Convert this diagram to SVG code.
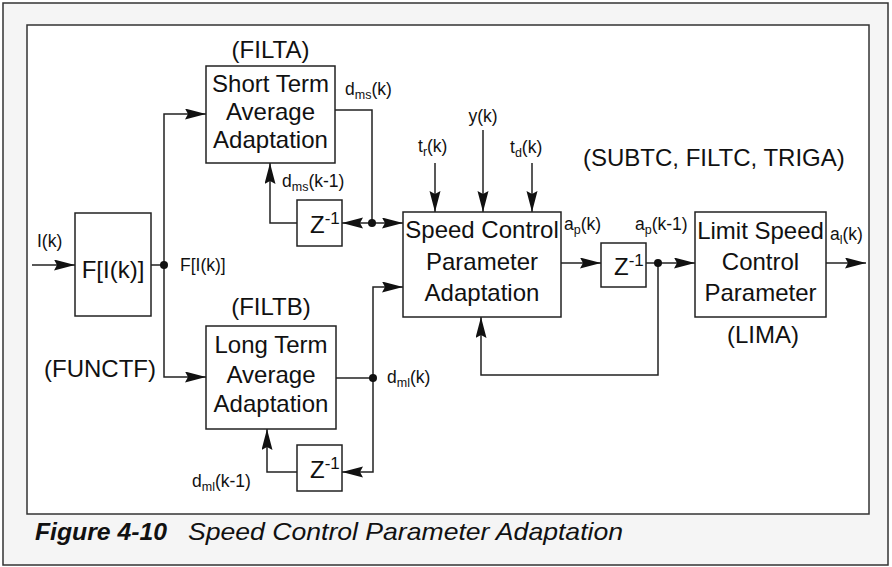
<svg xmlns="http://www.w3.org/2000/svg" width="892" height="567" viewBox="0 0 892 567">
<defs>
<style>
text{font-family:"Liberation Sans",Arial,Helvetica,sans-serif;fill:#111}
.box{fill:#fff;stroke:#222;stroke-width:1.5}
.big{font-size:24px}
.mid{text-anchor:middle}
.lbl{font-size:17.5px}
.sub{font-size:12.5px}
.sup{font-size:17px}
.wire{fill:none;stroke:#222;stroke-width:1.5}
.arr{marker-end:url(#ah)}
.dot{fill:#111}
</style>
<marker id="ah" markerUnits="userSpaceOnUse" markerWidth="23" markerHeight="12" refX="21" refY="5.5" orient="auto">
<path d="M0,0 L21,5.5 L0,11 L3,5.5 Z" fill="#111"/>
</marker>
</defs>
<rect x="3" y="3" width="885" height="562" fill="#f5f5f5" stroke="#333" stroke-width="1.5"/>
<rect x="27" y="25" width="842" height="489" fill="#fff" stroke="#333" stroke-width="1.5"/>

<g id="connectors">
<path class="wire arr" d="M32,265 H75"/>
<path class="wire" d="M151,265 H164"/>
<path class="wire arr" d="M164,265 V114 H206"/>
<path class="wire arr" d="M164,265 V377 H206"/>
<path class="wire" d="M335,110 H372 V223"/>
<path class="wire arr" d="M372,223 H342"/>
<path class="wire arr" d="M372,223 H403"/>
<path class="wire arr" d="M297,223 H270 V163"/>
<path class="wire arr" d="M435,163 V212"/>
<path class="wire arr" d="M483,130 V212"/>
<path class="wire arr" d="M532,163 V212"/>
<path class="wire" d="M336,378 H373"/>
<path class="wire arr" d="M373,378 V287 H403"/>
<path class="wire arr" d="M373,378 V472 H342"/>
<path class="wire arr" d="M297,472 H267 V429"/>
<path class="wire arr" d="M561,263 H601"/>
<path class="wire" d="M646,263 H658"/>
<path class="wire arr" d="M658,263 H695"/>
<path class="wire arr" d="M658,263 V375 H481 V317"/>
<path class="wire arr" d="M826,263 H866"/>
<circle class="dot" cx="164" cy="265" r="4"/>
<circle class="dot" cx="372" cy="223" r="4"/>
<circle class="dot" cx="373" cy="378" r="4"/>
<circle class="dot" cx="658" cy="263" r="4"/>
</g>

<g id="funcF">
<rect class="box" x="75" y="213" width="76" height="103"/>
<text class="big mid" x="113" y="278">F[I(k)]</text>
<text class="big mid" x="100" y="377">(FUNCTF)</text>
</g>

<g id="filta">
<rect class="box" x="206" y="66" width="129" height="97"/>
<text class="big mid" x="270.5" y="58">(FILTA)</text>
<text class="big mid" x="270.5" y="92">Short Term</text>
<text class="big mid" x="270.5" y="120">Average</text>
<text class="big mid" x="270.5" y="148">Adaptation</text>
</g>

<g id="filtb">
<rect class="box" x="206" y="326" width="130" height="103"/>
<text class="big mid" x="271" y="315">(FILTB)</text>
<text class="big mid" x="271" y="353">Long Term</text>
<text class="big mid" x="271" y="383">Average</text>
<text class="big mid" x="271" y="412">Adaptation</text>
</g>

<g id="delay1">
<rect class="box" x="297" y="200" width="45" height="46"/>
<text class="big" x="310" y="233">Z<tspan class="sup" dy="-9">-1</tspan></text>
</g>

<g id="delay2">
<rect class="box" x="297" y="445" width="45" height="46"/>
<text class="big" x="310" y="478">Z<tspan class="sup" dy="-9">-1</tspan></text>
</g>

<g id="speed">
<rect class="box" x="403" y="212" width="158" height="105"/>
<text class="big mid" x="482" y="238">Speed Control</text>
<text class="big mid" x="482" y="270">Parameter</text>
<text class="big mid" x="482" y="301">Adaptation</text>
<text class="big" x="583" y="166">(SUBTC, FILTC, TRIGA)</text>
</g>

<g id="delay3">
<rect class="box" x="601" y="243" width="45" height="44"/>
<text class="big" x="614" y="275">Z<tspan class="sup" dy="-9">-1</tspan></text>
</g>

<g id="limit">
<rect class="box" x="695" y="212" width="131" height="105"/>
<text class="big mid" x="760.5" y="239">Limit Speed</text>
<text class="big mid" x="760.5" y="270">Control</text>
<text class="big mid" x="760.5" y="301">Parameter</text>
<text class="big mid" x="763" y="343">(LIMA)</text>
</g>

<g id="labels">
<text class="lbl" x="37" y="247">I(k)</text>
<text class="lbl" x="180" y="271">F[I(k)]</text>
<text class="lbl" x="345" y="95">d<tspan class="sub" dy="4">ms</tspan><tspan dy="-4">(k)</tspan></text>
<text class="lbl" x="282" y="187">d<tspan class="sub" dy="4">ms</tspan><tspan dy="-4">(k-1)</tspan></text>
<text class="lbl" x="418" y="152">t<tspan class="sub" dy="4">r</tspan><tspan dy="-4">(k)</tspan></text>
<text class="lbl mid" x="483" y="122">y(k)</text>
<text class="lbl" x="510" y="153">t<tspan class="sub" dy="4">d</tspan><tspan dy="-4">(k)</tspan></text>
<text class="lbl" x="564" y="230">a<tspan class="sub" dy="4">p</tspan><tspan dy="-4">(k)</tspan></text>
<text class="lbl" x="635" y="230">a<tspan class="sub" dy="4">p</tspan><tspan dy="-4">(k-1)</tspan></text>
<text class="lbl" x="830" y="240">a<tspan class="sub" dy="4">l</tspan><tspan dy="-4">(k)</tspan></text>
<text class="lbl" x="387" y="383">d<tspan class="sub" dy="4">ml</tspan><tspan dy="-4">(k)</tspan></text>
<text class="lbl" x="192" y="487">d<tspan class="sub" dy="4">ml</tspan><tspan dy="-4">(k-1)</tspan></text>
</g>

<g id="caption">
<text x="35" y="540" font-size="24" font-weight="bold" font-style="italic" textLength="132" lengthAdjust="spacingAndGlyphs">Figure 4-10</text>
<text x="188" y="540" font-size="24" font-style="italic" textLength="435" lengthAdjust="spacingAndGlyphs">Speed Control Parameter Adaptation</text>
</g>
</svg>
